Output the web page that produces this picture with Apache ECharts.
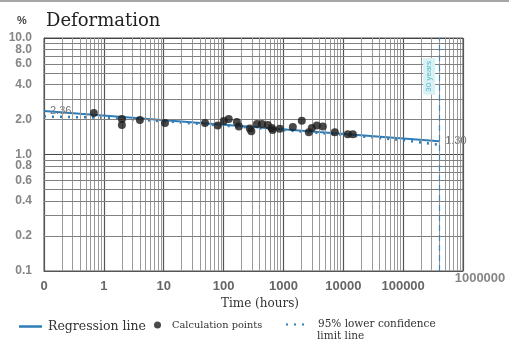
<!DOCTYPE html>
<html><head><meta charset="utf-8">
<script src="https://cdn.jsdelivr.net/npm/echarts@6/dist/echarts.min.js"></script>
<style>html,body{margin:0;padding:0;background:#fff}#c{width:509px;height:344px}</style>
</head><body><div id="c"></div>
<script>
// ---- data ----
const xTickValues = [0.1, 1, 10, 100, 1000, 10000, 100000, 1000000];
const xTickLabels = ['0', '1', '10', '100', '1000', '10000', '100000', '1000000'];
const yTickValues = [10, 8, 6, 4, 2, 1, 0.8, 0.6, 0.4, 0.2, 0.1];
const yTickLabels = ['10.0', '8.0', '6.0', '4.0', '2.0', '1.0', '0.8', '0.6', '0.4', '0.2', '0.1'];

const pointHours = [0.68, 2.0, 2.0, 4.0, 10.5, 49, 80, 101, 122, 167, 180, 275, 291, 360, 436, 549, 640, 660, 871, 1436, 2028, 2655, 2980, 3611, 4548, 7211, 11885, 14420];
const pointDeformation = [2.27, 2.02, 1.79, 1.98, 1.86, 1.86, 1.77, 1.94, 2.02, 1.90, 1.74, 1.67, 1.58, 1.83, 1.83, 1.79, 1.69, 1.62, 1.66, 1.72, 1.95, 1.55, 1.69, 1.77, 1.74, 1.55, 1.49, 1.49];

const regressionHours = [0.1, 400000];
const regressionValues = [2.36, 1.30];
const regressionLabels = ['2.36', '1.30'];

const confidenceHours = [0.1, 1, 10, 100, 1000, 10000, 100000, 400000];
const confidenceValues = [2.12, 2.07, 1.93, 1.77, 1.62, 1.47, 1.33, 1.21];

const serviceLifeHours = 400000;
const serviceLifeLabel = '30 years';

const seriesNames = ['Regression line', 'Calculation points', '95% lower confidence limit line'];
const confidenceLegendLines = ['95% lower confidence', 'limit line'];

// ---- minor log grid (decoration) ----
const minorX = [];
for (let e = -1; e < 6; e++) for (let m = 2; m <= 9; m++) minorX.push(m * Math.pow(10, e));
const minorY = [];
for (let e = -1; e < 1; e++) for (let m = 2; m <= 9; m++) minorY.push(m * Math.pow(10, e));

const blue = '#2e7db8';
const labelGrey = '#666';

function tickIndex(v) {
  return xTickValues.findIndex(t => Math.abs(Math.log10(t) - Math.log10(v)) < 1e-6);
}

const chart = echarts.init(document.getElementById('c'), null, { renderer: 'canvas' });
chart.setOption({
  animation: false,
  backgroundColor: '#fff',
  graphic: [{ type: 'rect', shape: { x: 0, y: 0, width: 509, height: 2 }, style: { fill: '#a6a6a6' } }],
  title: [
    { text: '%', left: 12, top: 10, textStyle: { fontFamily: 'Liberation Sans', fontWeight: 'bold', fontSize: 11, color: '#444' } },
    { text: 'Deformation', left: 41, top: 7, textStyle: { fontFamily: 'DejaVu Serif', fontWeight: 'normal', fontSize: 18, color: '#222' } },
    { text: confidenceLegendLines[1], left: 312, top: 326, textStyle: { fontFamily: 'DejaVu Serif', fontWeight: 'normal', fontSize: 10.5, color: '#333' } }
  ],
  grid: { left: 44, right: 46, top: 38, bottom: 73, show: true, borderColor: '#555', borderWidth: 1 },
  xAxis: {
    type: 'log', logBase: 10, min: 0.1, max: 1000000,
    axisLine: { show: true, lineStyle: { color: '#555' } },
    axisTick: { show: false },
    splitLine: { show: true, lineStyle: { color: '#555', width: 1.2 } },
    axisLabel: {
      margin: 9, fontFamily: 'Liberation Sans', fontSize: 13, fontWeight: 'bold', color: labelGrey,
      showMaxLabel: false,
      formatter: v => { const i = tickIndex(v); return i >= 0 ? xTickLabels[i] : ''; }
    },
    name: 'Time (hours)', nameLocation: 'middle', nameGap: 27,
    nameTextStyle: { fontFamily: 'DejaVu Serif', fontSize: 12, color: '#333', padding: [0, 0, 0, 13] }
  },
  yAxis: {
    type: 'log', logBase: 10, min: 0.1, max: 10,
    axisLine: { show: true, lineStyle: { color: '#555' } },
    axisTick: { show: false },
    axisLabel: { show: false },
    splitLine: { show: true, lineStyle: { color: '#444', width: 1.2 } }
  },
  legend: [
    { data: [{ name: seriesNames[0], icon: 'rect' }], left: 14, top: 315, itemWidth: 23, itemHeight: 2.5, itemGap: 0,
      textStyle: { fontFamily: 'DejaVu Serif', fontSize: 12.5, color: '#333', padding: [0, 0, 0, 1] } },
    { data: [{ name: seriesNames[1], icon: 'circle' }], left: 149, top: 315, itemWidth: 7, itemHeight: 7,
      textStyle: { fontFamily: 'DejaVu Serif', fontSize: 9.8, color: '#333', padding: [0, 0, 0, 6] } },
    { data: [{ name: seriesNames[2], itemStyle: { opacity: 0 } }], left: 280, top: 314, itemWidth: 24, itemHeight: 10,
      formatter: () => confidenceLegendLines[0],
      textStyle: { fontFamily: 'DejaVu Serif', fontSize: 10.5, color: '#333', padding: [0, 0, 0, 3] } }
  ],
  series: [
    {
      name: 'minor-grid', type: 'line', data: [], silent: true, z: 1,
      markLine: {
        silent: true, symbol: ['none', 'none'], label: { show: false }, animation: false,
        lineStyle: { color: '#9a9a9a', type: 'solid', width: 1 },
        data: minorX.map(v => ({ xAxis: v })).concat(minorY.map(v => ({ yAxis: v, lineStyle: { color: '#808080' } })))
      }
    },
    {
      name: 'y-labels', type: 'scatter', silent: true, symbolSize: 0, z: 2, clip: false,
      data: yTickValues.map((v, i) => ({ value: [xTickValues[0], v], label: { formatter: yTickLabels[i] } })),
      label: { show: true, position: 'left', distance: 12, fontFamily: 'Liberation Sans', fontSize: 12, fontWeight: 'bold', color: labelGrey }
    },
    {
      name: 'x-max-label', type: 'scatter', silent: true, symbolSize: 0, z: 2, clip: false,
      data: [{ value: [xTickValues[7], yTickValues[10]], label: { formatter: xTickLabels[7] } }],
      label: { show: true, position: 'bottom', distance: 1, offset: [17, 0], fontFamily: 'Liberation Sans', fontSize: 13, fontWeight: 'bold', color: labelGrey }
    },
    {
      name: seriesNames[0], type: 'line', z: 4,
      data: regressionHours.map((h, i) => ({ value: [h, regressionValues[i]], label: { formatter: regressionLabels[i] } })),
      symbol: 'circle', symbolSize: 0, showSymbol: true,
      itemStyle: { color: blue },
      lineStyle: { color: blue, width: 2 },
      label: { show: true, position: 'right', distance: 6, fontFamily: 'Liberation Sans', fontSize: 11, color: '#777' },
      markLine: {
        silent: true, symbol: ['none', 'none'],
        lineStyle: { color: '#3a86c0', type: [6, 4], width: 1.2 },
        label: {
          show: true, formatter: serviceLifeLabel, position: 'insideEndTop', distance: [20, 4],
          fontFamily: 'Liberation Sans', fontSize: 8, color: '#58b8c9', backgroundColor: '#d7f1f5', padding: [2, 3]
        },
        data: [{ xAxis: serviceLifeHours }]
      }
    },
    {
      name: seriesNames[2], type: 'line', z: 3, symbol: 'none',
      data: confidenceHours.map((h, i) => [h, confidenceValues[i]]),
      itemStyle: { color: blue },
      lineStyle: { color: blue, width: 2.5, type: [2, 6] }
    },
    {
      name: seriesNames[1], type: 'scatter', z: 5, symbol: 'circle', symbolSize: 8,
      itemStyle: { color: '#1b1b1b' },
      data: pointHours.map((h, i) => [h, pointDeformation[i]])
    }
  ]
});
</script></body></html>
